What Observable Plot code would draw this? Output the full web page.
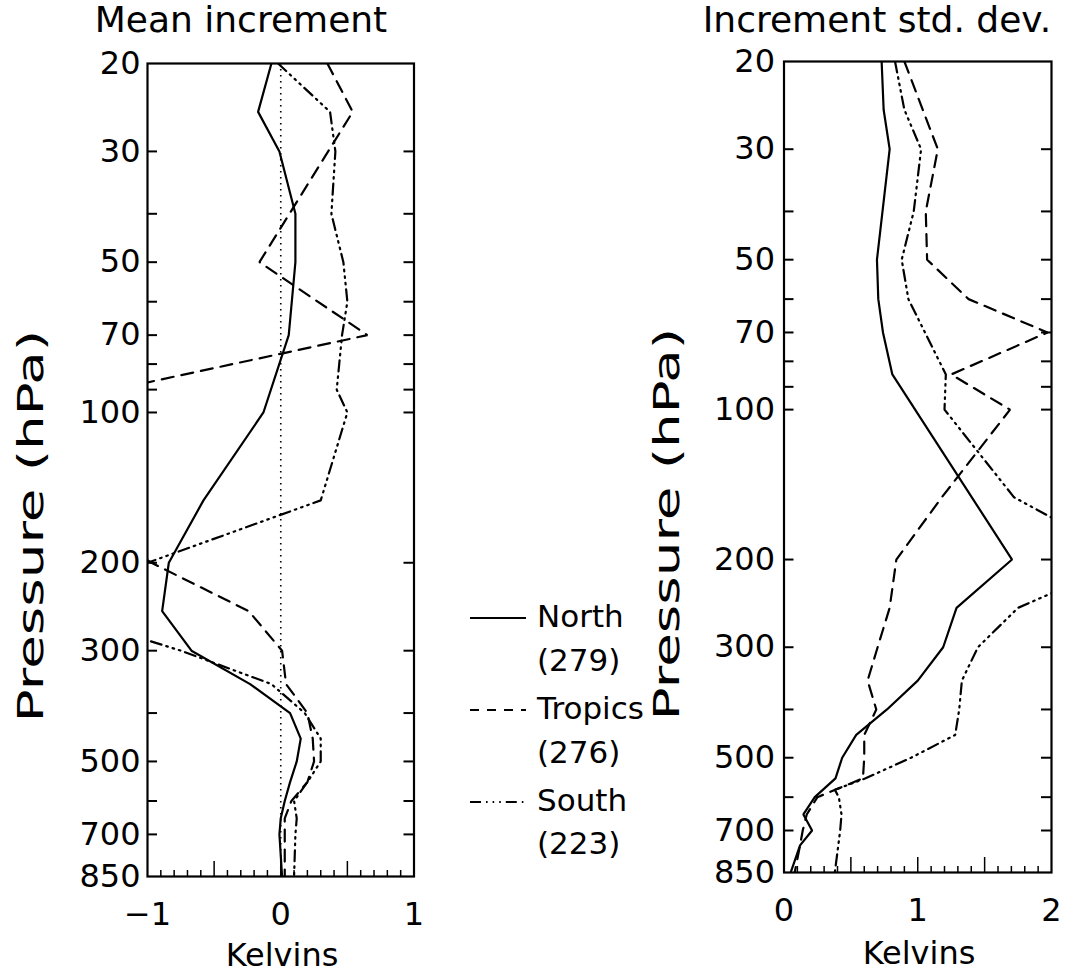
<!DOCTYPE html>
<html><head><meta charset="utf-8">
<script src="https://cdn.jsdelivr.net/npm/d3@7"></script>
<script src="https://cdn.jsdelivr.net/npm/@observablehq/plot@0.6"></script>
<style>
body{margin:0;background:#fff;font-family:"DejaVu Sans",sans-serif;}
#page{position:relative;width:1068px;height:974px;overflow:hidden;background:#fff;}
#page > svg, #page > div{position:absolute;}
</style></head><body><div id="page"></div>
<script>
// ---------- data ----------
// Left panel: mean increment (K)
const northMeanP = [20, 25, 30, 40, 50, 70, 100, 150, 200, 250, 300, 350, 400, 450, 500, 550, 600, 650, 700, 850];
const northMean  = [-0.07, -0.17, -0.01, 0.11, 0.11, 0.06, -0.13, -0.58, -0.84, -0.89, -0.67, -0.23, 0.07, 0.15, 0.12, 0.07, 0.03, 0.0, -0.01, 0.01];
const tropicsMeanP = [20, 25, 50, 70, 100, 150, 200, 250, 300, 350, 400, 450, 500, 550, 600, 650, 700, 850];
const tropicsMean  = [0.35, 0.54, -0.16, 0.65, -2.05, -1.7, -0.97, -0.24, 0.01, 0.04, 0.2, 0.24, 0.25, 0.2, 0.08, 0.03, 0.03, 0.03];
const southMeanP = [20, 25, 30, 40, 50, 60, 70, 90, 100, 150, 200, 250, 300, 350, 400, 450, 500, 550, 600, 650, 700, 850];
const southMean  = [-0.02, 0.37, 0.41, 0.38, 0.47, 0.50, 0.46, 0.42, 0.50, 0.30, -1.0, -1.7, -0.75, -0.07, 0.18, 0.30, 0.30, 0.20, 0.10, 0.12, 0.11, 0.10];

// Right panel: increment standard deviation (K)
const northSdP = [20, 25, 30, 50, 60, 70, 85, 200, 250, 300, 350, 400, 450, 500, 550, 600, 650, 700, 750, 850];
const northSd  = [0.73, 0.745, 0.79, 0.695, 0.705, 0.74, 0.81, 1.705, 1.29, 1.19, 1.0, 0.77, 0.54, 0.435, 0.385, 0.23, 0.145, 0.21, 0.12, 0.05];
const tropicsSdP = [20, 30, 40, 50, 60, 70, 85, 100, 150, 200, 250, 300, 350, 400, 450, 500, 550, 600, 650, 700, 750, 850];
const tropicsSd  = [0.90, 1.15, 1.06, 1.07, 1.38, 1.97, 1.25, 1.69, 1.18, 0.84, 0.79, 0.70, 0.625, 0.69, 0.60, 0.60, 0.59, 0.25, 0.17, 0.14, 0.12, 0.08];
const southSdP = [20, 25, 30, 40, 50, 60, 85, 100, 150, 200, 250, 300, 350, 400, 450, 500, 550, 580, 600, 650, 700, 850];
const southSd  = [0.83, 0.90, 1.025, 0.97, 0.88, 0.93, 1.21, 1.20, 1.72, 2.58, 1.75, 1.45, 1.33, 1.31, 1.28, 0.95, 0.61, 0.38, 0.41, 0.43, 0.42, 0.38];

// axes
const yLabelTicks = [20, 30, 50, 70, 100, 200, 300, 500, 700, 850];
const yMinorTicks = [30, 40, 50, 60, 70, 80, 90, 100, 200, 300, 400, 500, 600, 700];
const xLabelsLeft = [-1, 0, 1];
const xMinorLeft = [-0.9,-0.8,-0.7,-0.6,-0.4,-0.3,-0.2,-0.1,0.1,0.2,0.3,0.4,0.6,0.7,0.8,0.9];
const xMajorLeft = [-0.5, 0, 0.5];
const xLabelsRight = [0, 1, 2];
const xMinorRight = [0.1,0.2,0.3,0.4,0.6,0.7,0.8,0.9,1.1,1.2,1.3,1.4,1.6,1.7,1.8,1.9];
const xMajorRight = [0.5, 1, 1.5];

const regions = ["North", "Tropics", "South"];
const counts = ["(279)", "(276)", "(223)"];

// ---------- styles ----------
const FONT = "DejaVu Sans";
const dashes = {North: null, Tropics: "12,8", South: "11,5,1.6,5,1.6,5,1.6,5"};

const rows = (P, V, region) => P.map((p, i) => ({p, v: V[i], region}));

function panel({width, mL, mR, mT, mB, xDomain, xLabels, xMinor, xMajor, series, zeroLine, yPad}) {
  const fw = width - mL - mR, fh = 974 - mT - mB;
  const fmt = d => d < 0 ? "\u2212" + Math.abs(d) : String(d);
  const marks = [
    Plot.axisY(yLabelTicks, {anchor: "left", tickSize: 0, tickPadding: yPad, fontSize: 32, label: null, tickFormat: d => String(d)}),
    Plot.axisX(xLabels, {anchor: "bottom", tickSize: 0, tickPadding: 26, fontSize: 32, label: null, tickFormat: fmt}),
    Plot.tickY(yMinorTicks, {y: d => d, insetRight: fw - 10, strokeWidth: 2}),
    Plot.tickY(yMinorTicks, {y: d => d, insetLeft: fw - 10, strokeWidth: 2}),
    Plot.tickX(xMinor, {x: d => d, insetTop: fh - 6, strokeWidth: 1.5}),
    Plot.tickX(xMajor, {x: d => d, insetTop: fh - 15, strokeWidth: 1.5}),
  ];
  if (zeroLine) marks.push(Plot.ruleX([0], {strokeDasharray: "1.5,4.5", strokeWidth: 1.6}));
  for (const s of series) {
    marks.push(Plot.line(s.data, {x: "v", y: "p", stroke: "black", strokeWidth: 2.2,
      strokeDasharray: dashes[s.region], clip: true, strokeLinejoin: "miter"}));
  }
  marks.push(Plot.frame({strokeWidth: 2.2}));
  return Plot.plot({
    width, height: 974,
    marginLeft: mL, marginRight: mR, marginTop: mT, marginBottom: mB,
    x: {domain: xDomain},
    y: {type: "log", domain: [20, 850], reverse: true},
    style: {fontFamily: FONT, fontSize: "32px", background: "transparent", overflow: "visible", color: "black"},
    marks
  });
}

const page = document.getElementById("page");

const leftPlot = panel({
  width: 440, mL: 147, mR: 440 - 413.5, mT: 63, mB: 974 - 876,
  xDomain: [-1, 1], xLabels: xLabelsLeft, xMinor: xMinorLeft, xMajor: xMajorLeft, zeroLine: true, yPad: 7,
  series: [
    {region: "North", data: rows(northMeanP, northMean, "North")},
    {region: "Tropics", data: rows(tropicsMeanP, tropicsMean, "Tropics")},
    {region: "South", data: rows(southMeanP, southMean, "South")}
  ]
});
leftPlot.style.left = "0px"; leftPlot.style.top = "0px";
page.appendChild(leftPlot);

const rightPlot = panel({
  width: 428, mL: 783.5 - 640, mR: 1068 - 1051, mT: 61, mB: 974 - 872,
  xDomain: [0, 2], xLabels: xLabelsRight, xMinor: xMinorRight, xMajor: xMajorRight, zeroLine: false, yPad: 9,
  series: [
    {region: "North", data: rows(northSdP, northSd, "North")},
    {region: "Tropics", data: rows(tropicsSdP, tropicsSd, "Tropics")},
    {region: "South", data: rows(southSdP, southSd, "South")}
  ]
});
rightPlot.style.left = "640px"; rightPlot.style.top = "0px";
page.appendChild(rightPlot);

// ---------- titles, axis labels, legend ----------
const NS = "http://www.w3.org/2000/svg";
const ov = document.createElementNS(NS, "svg");
ov.setAttribute("width", 1068); ov.setAttribute("height", 974);
ov.style.left = "0px"; ov.style.top = "0px";
ov.setAttribute("font-family", FONT);
page.appendChild(ov);

function txt(s, x, y, size, anchor = "middle", transform = null) {
  const t = document.createElementNS(NS, "text");
  t.textContent = s;
  t.setAttribute("font-size", size);
  t.setAttribute("text-anchor", anchor);
  if (transform) t.setAttribute("transform", transform);
  else { t.setAttribute("x", x); t.setAttribute("y", y); }
  t.setAttribute("fill", "black");
  ov.appendChild(t);
}
txt("Mean increment", 241, 32, 36);
txt("Increment std. dev.", 877, 32, 36);
txt("Kelvins", 282, 966, 32);
txt("Kelvins", 919, 964, 32);
txt("Pressure (hPa)", 0, 0, 36, "middle", "translate(43,526) rotate(-90) scale(1.52,1)");
txt("Pressure (hPa)", 0, 0, 36, "middle", "translate(679,524) rotate(-90) scale(1.52,1)");

const rowY = [616, 660, 708, 752, 800, 843];
regions.forEach((r, i) => {
  const yc = rowY[2 * i];
  const l = document.createElementNS(NS, "line");
  l.setAttribute("x1", 470); l.setAttribute("x2", 526);
  l.setAttribute("y1", yc + 2); l.setAttribute("y2", yc + 2);
  l.setAttribute("stroke", "black"); l.setAttribute("stroke-width", 2.2);
  if (dashes[r]) l.setAttribute("stroke-dasharray", r === "South" ? "11,5,1.6,5,1.6,5,1.6,5" : "9,8");
  ov.appendChild(l);
  txt(r, 537, yc + 11, 31, "start");
  txt(counts[i], 537, rowY[2 * i + 1] + 11, 31, "start");
});
</script></body></html>
